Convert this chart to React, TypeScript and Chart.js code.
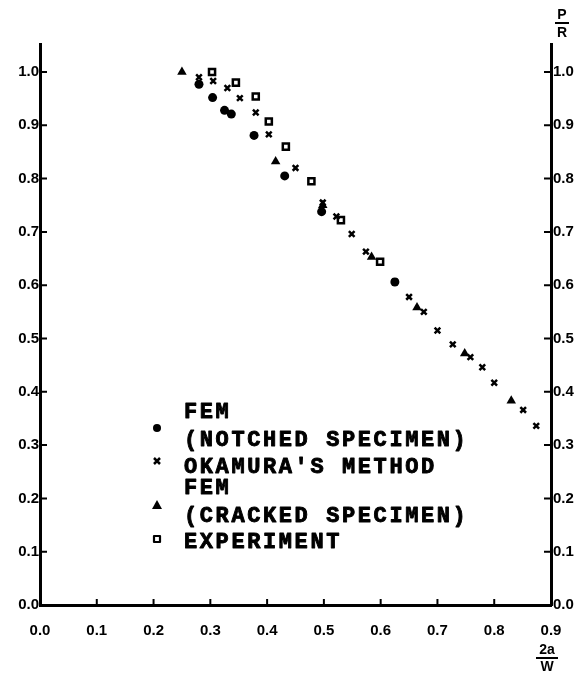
import React, { useEffect, useRef } from 'react';
import { Chart, registerables } from 'chart.js';

Chart.register(...registerables);

// ---- data ----
const xTickValues = [0, 0.1, 0.2, 0.3, 0.4, 0.5, 0.6, 0.7, 0.8, 0.9];
const yTickValues = [0, 0.1, 0.2, 0.3, 0.4, 0.5, 0.6, 0.7, 0.8, 0.9, 1.0];

const femNotchedX = [0.28, 0.304, 0.325, 0.337, 0.377, 0.431, 0.496, 0.625];
const femNotchedY = [0.977, 0.952, 0.928, 0.921, 0.881, 0.805, 0.738, 0.606];

const okamuraX = [0.28, 0.305, 0.33, 0.352, 0.38, 0.403, 0.45, 0.498, 0.522, 0.549, 0.574, 0.625, 0.65, 0.676, 0.7, 0.727, 0.758, 0.779, 0.8, 0.851, 0.874];
const okamuraY = [0.99, 0.983, 0.97, 0.951, 0.924, 0.883, 0.82, 0.755, 0.729, 0.696, 0.663, 0.607, 0.578, 0.55, 0.515, 0.489, 0.465, 0.446, 0.417, 0.366, 0.336];

const femCrackedX = [0.25, 0.415, 0.498, 0.584, 0.664, 0.748, 0.83];
const femCrackedY = [1.0, 0.832, 0.75, 0.653, 0.558, 0.472, 0.383];

const experimentX = [0.303, 0.345, 0.38, 0.403, 0.433, 0.478, 0.53, 0.599];
const experimentY = [1.0, 0.98, 0.954, 0.907, 0.86, 0.795, 0.722, 0.644];

const legendLines = ['FEM', '(NOTCHED SPECIMEN)', "OKAMURA'S METHOD", 'FEM', '(CRACKED SPECIMEN)', 'EXPERIMENT'];
const yTitleTop = 'P';
const yTitleBottom = 'R';
const xTitleTop = '2a';
const xTitleBottom = 'W';

const zip = (xs: number[], ys: number[]) => xs.map((x, i) => ({ x, y: ys[i] }));

const tickFont = { family: '"Liberation Sans", Arial, sans-serif', size: 15, weight: 'bold' as const };

const decorPlugin = {
  id: 'decor',
  afterDraw(chart: any) {
    const ctx = chart.ctx as CanvasRenderingContext2D;
    const { left, right, bottom } = chart.chartArea;
    const xs = chart.scales.x;
    const ys = chart.scales.y;
    ctx.save();
    ctx.strokeStyle = '#000';
    ctx.fillStyle = '#000';
    ctx.lineWidth = 2;
    ctx.lineCap = 'butt';
    // inward tick marks
    xTickValues.forEach((v) => {
      const px = xs.getPixelForValue(v);
      ctx.beginPath();
      ctx.moveTo(px, bottom);
      ctx.lineTo(px, bottom - 6);
      ctx.stroke();
    });
    yTickValues.forEach((v) => {
      const py = ys.getPixelForValue(v);
      ctx.beginPath();
      ctx.moveTo(left, py);
      ctx.lineTo(left + 7, py);
      ctx.moveTo(right - 7, py);
      ctx.lineTo(right, py);
      ctx.stroke();
    });

    // legend
    const textX = 184;
    const step = 15.8;
    const baselines = [418, 446, 473, 494, 522, 548];
    ctx.font = 'bold 22px "Liberation Mono", "Courier New", monospace';
    ctx.textAlign = 'left';
    ctx.textBaseline = 'alphabetic';
    ctx.lineWidth = 0.9;
    ctx.lineJoin = 'round';
    legendLines.forEach((line, li) => {
      for (let i = 0; i < line.length; i++) {
        ctx.fillText(line[i], textX + i * step, baselines[li]);
        ctx.strokeText(line[i], textX + i * step, baselines[li]);
      }
    });
    // legend markers
    const mx = 157;
    ctx.beginPath();
    ctx.arc(mx, 428, 4, 0, Math.PI * 2);
    ctx.fill();
    ctx.lineWidth = 2.5;
    ctx.beginPath();
    ctx.moveTo(mx - 3, 458);
    ctx.lineTo(mx + 3, 464);
    ctx.moveTo(mx + 3, 458);
    ctx.lineTo(mx - 3, 464);
    ctx.stroke();
    ctx.beginPath();
    ctx.moveTo(mx, 500);
    ctx.lineTo(mx + 5, 509);
    ctx.lineTo(mx - 5, 509);
    ctx.closePath();
    ctx.fill();
    ctx.lineWidth = 2.2;
    ctx.strokeRect(mx - 3, 536, 6, 6);

    // axis titles (fractions)
    ctx.font = 'bold 14px "Liberation Sans", Arial, sans-serif';
    ctx.textAlign = 'center';
    ctx.textBaseline = 'middle';
    ctx.fillText(yTitleTop, 562, 15);
    ctx.lineWidth = 2;
    ctx.beginPath();
    ctx.moveTo(555, 23);
    ctx.lineTo(569, 23);
    ctx.stroke();
    ctx.fillText(yTitleBottom, 562, 33);

    ctx.fillText(xTitleTop, 547, 650);
    ctx.beginPath();
    ctx.moveTo(536, 658);
    ctx.lineTo(558, 658);
    ctx.stroke();
    ctx.fillText(xTitleBottom, 547, 667);
    ctx.restore();
  },
};

export default function App() {
  const ref = useRef<HTMLCanvasElement | null>(null);
  useEffect(() => {
    if (!ref.current) return;
    const setTicks = (scale: any) => {
      scale.ticks = yTickValues.map((v) => ({ value: v }));
    };
    const chart = new Chart(ref.current, {
      type: 'scatter',
      data: {
        datasets: [
          {
            label: 'FEM (NOTCHED SPECIMEN)',
            data: zip(femNotchedX, femNotchedY),
            pointStyle: 'circle',
            pointRadius: 4.5,
            backgroundColor: '#000',
            borderColor: '#000',
            borderWidth: 0,
          },
          {
            label: "OKAMURA'S METHOD",
            data: zip(okamuraX, okamuraY),
            pointStyle: 'crossRot',
            pointRadius: 4,
            borderColor: '#000',
            borderWidth: 2.5,
          },
          {
            label: 'FEM (CRACKED SPECIMEN)',
            data: zip(femCrackedX, femCrackedY),
            pointStyle: 'triangle',
            pointRadius: 5.5,
            backgroundColor: '#000',
            borderColor: '#000',
            borderWidth: 0,
          },
          {
            label: 'EXPERIMENT',
            data: zip(experimentX, experimentY),
            pointStyle: 'rect',
            pointRadius: 4.3,
            backgroundColor: '#fff',
            borderColor: '#000',
            borderWidth: 2.5,
          },
        ],
      },
      options: {
        responsive: false,
        animation: false,
        events: [],
        layout: { padding: { top: 44, left: 0, right: 0, bottom: 0 } },
        plugins: { legend: { display: false }, tooltip: { enabled: false } },
        scales: {
          x: {
            type: 'linear',
            position: 'bottom',
            min: 0,
            max: 0.9,
            afterBuildTicks: (scale: any) => {
              scale.ticks = xTickValues.map((v) => ({ value: v }));
            },
            afterFit: (scale: any) => {
              scale.height = 70;
            },
            ticks: {
              callback: (v: any) => Number(v).toFixed(1),
              font: tickFont,
              color: '#000',
              padding: 17,
              maxRotation: 0,
              autoSkip: false,
            },
            grid: { display: false, drawTicks: false },
            border: { display: true, color: '#000', width: 3 },
          },
          y: {
            type: 'linear',
            position: 'left',
            min: 0,
            max: 1.0525,
            afterBuildTicks: setTicks,
            afterFit: (scale: any) => {
              scale.width = 40;
            },
            ticks: {
              callback: (v: any) => Number(v).toFixed(1),
              font: tickFont,
              color: '#000',
              padding: 1,
              autoSkip: false,
            },
            grid: { display: false, drawTicks: false },
            border: { display: true, color: '#000', width: 3 },
          },
          y2: {
            type: 'linear',
            position: 'right',
            min: 0,
            max: 1.0525,
            afterBuildTicks: setTicks,
            afterFit: (scale: any) => {
              scale.width = 34;
            },
            ticks: {
              callback: (v: any) => Number(v).toFixed(1),
              font: tickFont,
              color: '#000',
              padding: 2,
              autoSkip: false,
            },
            grid: { display: false, drawTicks: false },
            border: { display: true, color: '#000', width: 3 },
          },
        },
      },
      plugins: [decorPlugin],
    });
    return () => chart.destroy();
  }, []);
  return (
    <div style={{ position: 'absolute', left: 0, top: 0, width: 585, height: 675, background: '#fff' }}>
      <canvas ref={ref} width={585} height={675} style={{ display: 'block' }} />
    </div>
  );
}
